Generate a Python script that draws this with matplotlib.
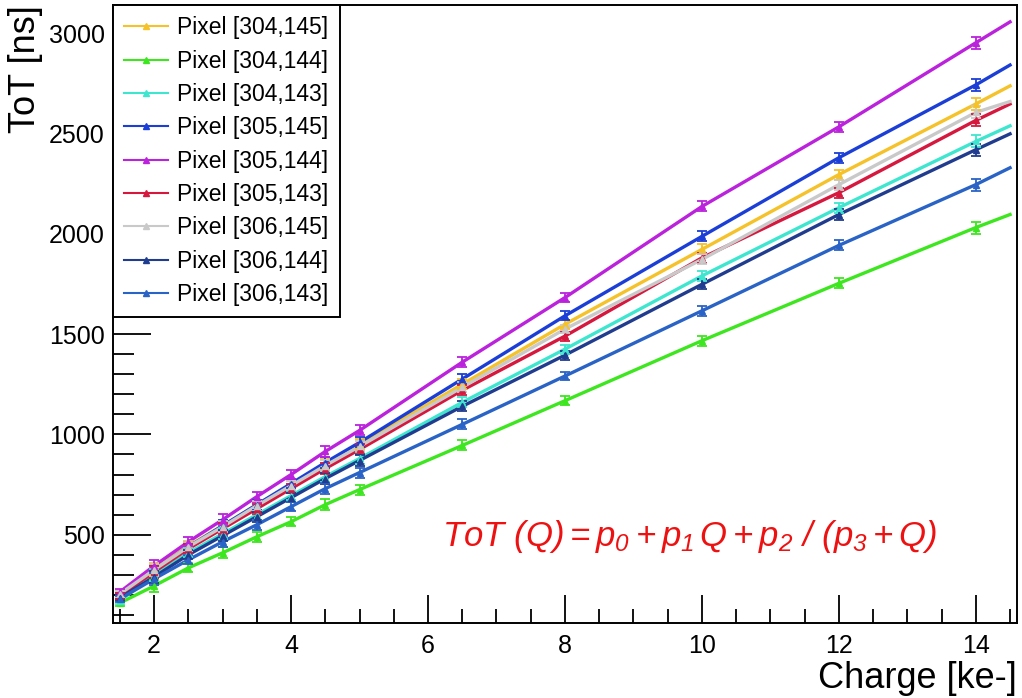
import numpy as np
import matplotlib.pyplot as plt
from matplotlib.ticker import MultipleLocator

plt.rcParams['font.family'] = ['Liberation Sans', 'DejaVu Sans']
plt.rcParams['mathtext.fontset'] = 'custom'
plt.rcParams['mathtext.it'] = 'Liberation Sans:italic'
plt.rcParams['mathtext.rm'] = 'Liberation Sans:italic'

# charge scan points [ke-]; last entry is the end of the scan (no marker)
charge = [1.5, 2, 2.5, 3, 3.5, 4, 4.5, 5, 6.5, 8, 10, 12, 14, 14.5]

pixels = ['Pixel [304,145]', 'Pixel [304,144]', 'Pixel [304,143]',
          'Pixel [305,145]', 'Pixel [305,144]', 'Pixel [305,143]',
          'Pixel [306,145]', 'Pixel [306,144]', 'Pixel [306,143]']

colors = ['#f5c22a', '#3ee620', '#3fe6cf',
          '#1b3fd6', '#bb22dc', '#d6183e',
          '#c9c9c9', '#203c8e', '#2a63c6']

tot_304_145 = [210, 330, 445, 545, 650, 750, 850, 950, 1250, 1549, 1922, 2295, 2647, 2737]
tot_304_144 = [160, 245, 335, 410, 490, 565, 650, 725, 945, 1168, 1467, 1753, 2031, 2096]
tot_304_143 = [170, 300, 410, 505, 600, 695, 790, 880, 1160, 1425, 1790, 2130, 2460, 2538]
tot_305_145 = [195, 320, 440, 545, 650, 755, 860, 960, 1276, 1591, 1987, 2379, 2742, 2841]
tot_305_144 = [215, 345, 465, 575, 690, 800, 915, 1020, 1360, 1682, 2136, 2533, 2952, 3056]
tot_305_143 = [195, 315, 430, 530, 630, 730, 830, 925, 1220, 1490, 1880, 2205, 2565, 2647]
tot_306_145 = [205, 325, 440, 540, 645, 745, 845, 940, 1235, 1525, 1872, 2245, 2605, 2659]
tot_306_144 = [185, 290, 400, 495, 590, 685, 780, 870, 1140, 1395, 1748, 2096, 2419, 2498]
tot_306_143 = [180, 280, 375, 465, 550, 640, 730, 810, 1050, 1291, 1616, 1942, 2245, 2329]

tot_err = [15, 30, 22, 28, 25, 22, 28, 25, 25, 22, 25, 25, 30]

series = [tot_304_145, tot_304_144, tot_304_143, tot_305_145, tot_305_144,
          tot_305_143, tot_306_145, tot_306_144, tot_306_143]

fig = plt.figure(figsize=(10.22, 6.98), dpi=100)
ax = fig.add_axes([0.1106, 0.1074, 0.8844, 0.8854])

for name, col, tot in zip(pixels, colors, series):
    ax.plot(charge, tot, color=col, lw=2.4, zorder=2)
    ax.errorbar(charge[:-1], tot[:-1], yerr=tot_err, fmt='^', ms=4, color=col,
                ecolor=col, elinewidth=1.3, capsize=3.5, capthick=1.3, zorder=3)
    ax.plot([], [], color=col, lw=1.5, marker='^', ms=4, label=name)

ax.set_xlim(1.4, 14.6)
ax.set_ylim(60, 3140)
ax.xaxis.set_major_locator(MultipleLocator(2))
ax.xaxis.set_minor_locator(MultipleLocator(0.5))
ax.yaxis.set_major_locator(MultipleLocator(500))
ax.yaxis.set_minor_locator(MultipleLocator(100))
ax.tick_params(which='both', direction='in', top=False, right=False, labelsize=18, width=1.3)
ax.tick_params(axis='x', which='major', length=20, pad=8)
ax.tick_params(axis='x', which='minor', length=10)
ax.tick_params(axis='y', which='major', length=27, pad=6)
ax.tick_params(axis='y', which='minor', length=15)
for s in ax.spines.values():
    s.set_linewidth(1.4)

ax.set_xlabel('Charge [ke-]', fontsize=26, loc='right', labelpad=2)
ax.set_ylabel('ToT [ns]', fontsize=26, loc='top', labelpad=4)

leg = ax.legend(loc='upper left', fontsize=16.5, frameon=True, fancybox=False,
                edgecolor='black', framealpha=1, borderaxespad=0, labelspacing=0.45,
                handlelength=1.9, handletextpad=0.4, borderpad=0.5)
leg.get_frame().set_linewidth(1.4)

ax.text(6.2, 490, r'$ToT\ (Q) = p_0 + p_1\,Q + p_2\ /\ (p_3 + Q)$', color='#ee1111',
        fontsize=25, va='center', ha='left')

fig.savefig('out.png', dpi=100)
